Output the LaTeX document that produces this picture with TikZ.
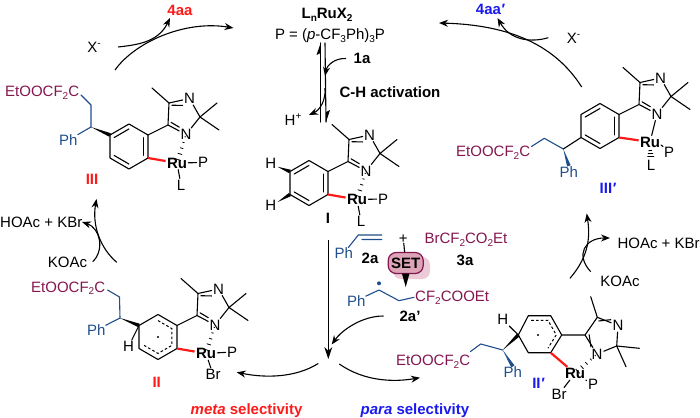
\documentclass[tikz,border=0pt]{standalone}
\usepackage{fontspec}
\setmainfont{Liberation Sans}
\usetikzlibrary{calc,arrows.meta}
\definecolor{maroon}{HTML}{84174F}
\definecolor{chainblue}{HTML}{1F4E8C}
\definecolor{lblred}{HTML}{FF1A1A}
\definecolor{lblblue}{HTML}{1A1AF0}
\definecolor{setfill}{HTML}{DDA3B6}
\definecolor{setshadow}{HTML}{EBCBD6}
\newcommand\subt[1]{\raisebox{-2.6pt}{\fontsize{10}{10}\selectfont #1}}
\newcommand\supt[1]{\raisebox{5.5pt}{\fontsize{10}{10}\selectfont #1}}
\tikzset{
  bond/.style={line width=1.1pt,line cap=round,line join=round},
  atom/.style={inner sep=1.2pt,font=\fontsize{15}{18}\selectfont},
  ruatom/.style={inner sep=1.2pt,font=\fontsize{15}{18}\selectfont\bfseries},
  txt/.style={inner sep=0pt,anchor=base west,font=\fontsize{15}{18}\selectfont},
  ctxt/.style={inner sep=0pt,anchor=base,font=\fontsize{15}{18}\selectfont},
  bold/.style={inner sep=0pt,anchor=base,font=\fontsize{15}{18}\selectfont\bfseries},
  redbond/.style={line width=2.2pt,color=lblred},
  rarrow/.style={line width=1.1pt,-{Stealth[length=9pt,width=7pt]}},
}
\newcommand\hashbond[2]{\foreach \hf/\hw in {.08/.6,.28/1.1,.48/1.7,.68/2.3,.88/2.9}{\coordinate (hp) at ($(#1)!\hf!(#2)$); \draw[line width=.8pt] ($(hp)!\hw pt!90:(#2)$) -- ($(hp)!\hw pt!-90:(#2)$);}}
\newcommand\wedgebond[3][black]{\fill[#1] (#2) -- ($(#3)!1.9pt!90:(#2)$) -- ($(#3)!1.9pt!-90:(#2)$) -- cycle;}
\newcommand\imidgroup[1]{%
  \coordinate (#1r1) at (110,135); \coordinate (#1r2) at (129,124);
  \coordinate (#1r3) at (148,135); \coordinate (#1r4) at (148,158);
  \coordinate (#1r5) at (129,169); \coordinate (#1r6) at (110,158);
  \coordinate (#1ct) at (129,146.5);
  \coordinate (#1c1) at (168,125); \coordinate (#1c2) at (169,103);
  \coordinate (#1c3) at (200,117); \coordinate (#1im) at (182,113);
  \coordinate (#1m1) at (152,88); \coordinate (#1m2) at (217,103); \coordinate (#1m3) at (219,130);
  \node[atom] (#1Na) at (189.5,98.5) {N};
  \node[atom] (#1Nb) at (186,134.5) {N};
  \draw[bond] (#1r3) -- (#1c1) -- (#1c2) -- (#1Na) -- (#1c3) -- (#1Nb) -- (#1c1);
  \draw[bond] (#1c2) -- (#1m1) (#1c3) -- (#1m2) (#1c3) -- (#1m3);
  \draw[bond] ($(#1c2)!.22!(#1im)$) -- ($(#1Na.south west)!.05!(#1im)$);
  \draw[bond] ($(#1c1)!.22!(#1im)$) -- ($(#1Nb.north west)!.05!(#1im)$);
}
\newcommand\benzring[1]{%
  \draw[bond] (#1r1) -- (#1r2) -- (#1r3) -- (#1r4) -- (#1r5) -- (#1r6) -- cycle;
  \draw[bond] ($(#1r1)!.22!(#1ct)$) -- ($(#1r2)!.22!(#1ct)$);
  \draw[bond] ($(#1r3)!.22!(#1ct)$) -- ($(#1r4)!.22!(#1ct)$);
  \draw[bond] ($(#1r5)!.22!(#1ct)$) -- ($(#1r6)!.22!(#1ct)$);
}
\begin{document}
\begin{tikzpicture}[x=1pt,y=-1pt]
\useasboundingbox (0,0) rectangle (700,417);

% ---------- top centre
\node[bold] (cat) at (327,18.5) {L\subt{n}RuX\subt{2}};
\node[ctxt] (pdef) at (330,39.5) {P = (\textit{p}-CF\subt{3}Ph)\subt{3}P};
\coordinate (eqAt) at (320.7,43); \coordinate (eqAb) at (320.7,122);
\coordinate (eqBt) at (325,43); \coordinate (eqBb) at (326,122);
\coordinate (eqAh) at (316.5,55); \coordinate (eqAi) at (320.7,53);
\coordinate (eqBh) at (330,110); \coordinate (eqBi) at (326,112);
\draw[bond] (eqAb) -- (eqAt);
\fill (eqAt) -- (eqAh) -- (eqAi) -- cycle;
\draw[bond] (eqBt) -- (eqBb);
\fill (eqBb) -- (eqBh) -- (eqBi) -- cycle;
\node[bold] (onea) at (362,63.5) {1a};
\coordinate (oneaE) at (325,76);
\coordinate (oneaS) at (346,58.5);
\draw[rarrow] (oneaS) .. controls (335,58) and (327,65) .. (oneaE);
\node[ctxt] (hplus) at (293,125) {H\supt{+}};
\coordinate (hS) at (325,88); \coordinate (hE) at (309,115);
\draw[rarrow] (hS) .. controls (326,100) and (320,110) .. (hE);
\node[bold] (chact) at (390,97) {C-H activation};

% ---------- complex III
\begin{scope}[shift={(0,0)}]
  \imidgroup{a}
  \benzring{a}
  \node[ruatom] (aRu) at (177,163) {Ru};
  \node[atom] (aP) at (203,162.5) {P};
  \node[atom] (aL) at (181,185) {L};
  \coordinate (aC) at (91,127); \coordinate (aD) at (91,105); \coordinate (aE) at (81,95);
\end{scope}
\draw[redbond] (ar4) -- (aRu);
\hashbond{aNb}{aRu}
\draw[bond] (aRu) -- (aP) (aRu) -- (aL);
\wedgebond{aC}{ar1}
\draw[bond,chainblue] (aE) -- (aD) -- (aC);
\node[txt,chainblue] (aPh) at (59,145.5) {Ph};
\draw[bond,chainblue] (aC) -- (aPh);
\node[txt,maroon] (aEt) at (5,96.5) {EtOOCF\subt{2}C};
\node[bold,lblred] (lIII) at (92,184.5) {III};

% ---------- complex I
\begin{scope}[shift={(180,36.5)}]
  \imidgroup{b}
  \benzring{b}
  \node[ruatom] (bRu) at (177,163) {Ru};
  \node[atom] (bP) at (203,162.5) {P};
  \node[atom] (bL) at (181,185) {L};
  \node[atom] (bHa) at (90.7,126.5) {H};
  \node[atom] (bHb) at (90.7,168.5) {H};
\end{scope}
\draw[redbond] (br4) -- (bRu);
\hashbond{bNb}{bRu}
\draw[bond] (bRu) -- (bP) (bRu) -- (bL);
\wedgebond{bHa}{br1}
\wedgebond{bHb}{br6}
\node[bold] (lI) at (328,223.5) {I};

% ---------- complex II
\begin{scope}[shift={(29,190.5)}]
  \imidgroup{c}
  \draw[bond] (cr1) -- (cr2) -- (cr3) -- (cr4) -- (cr5) -- (cr6) -- cycle;
  \draw[line width=1pt,dash pattern=on 2.6pt off 2.2pt] ($(cr2)!.27!(cct)$) -- ($(cr3)!.27!(cct)$) -- ($(cr4)!.27!(cct)$) -- ($(cr5)!.27!(cct)$) -- ($(cr6)!.27!(cct)$);
  \fill (cct) circle (1.1pt);
  \node[ruatom] (cRu) at (177,163) {Ru};
  \node[atom] (cP) at (203,161.5) {P};
  \node[atom] (cBr) at (184,184) {Br};
  \node[atom] (cH) at (99.5,156) {H};
  \coordinate (cC) at (91,127.5); \coordinate (cD) at (90.5,106.5); \coordinate (cE) at (78.5,99.5);
\end{scope}
\draw[redbond] (cr4) -- (cRu);
\hashbond{cNb}{cRu}
\draw[bond] (cRu) -- (cP) (cRu) -- (cBr);
\draw[bond] (cr1) -- (cH);
\wedgebond{cC}{cr1}
\draw[bond,chainblue] (cE) -- (cD) -- (cC);
\node[txt,chainblue] (cPh) at (87,335.5) {Ph};
\draw[bond,chainblue] (cC) -- (cPh);
\node[txt,maroon] (cEt) at (31,292) {EtOOCF\subt{2}C};
\node[bold,lblred] (lII) at (156.7,387) {II};

% ---------- complex III'
\begin{scope}[shift={(471,-20.5)}]
  \imidgroup{d}
  \benzring{d}
  \node[ruatom] (dRu) at (179,162.5) {Ru};
  \node[atom] (dP) at (198,172.5) {P};
  \node[atom] (dL) at (180,185.5) {L};
  \coordinate (dC) at (92.3,169.5); \coordinate (dD) at (73.3,158.8); \coordinate (dE) at (60.5,167);
  \coordinate (dPa) at (190,165.5); \coordinate (dPb) at (192,167);
\end{scope}
\draw[redbond] (dr4) -- (dRu);
\draw[bond] (dNb) -- (dRu);
\foreach \hf/\hw in {.2/1.8,.5/2.6,.8/3.4}{\coordinate (hp) at ($(dRu.south)!\hf!(dL.north)$); \draw[line width=.8pt] ($(hp)!\hw pt!90:(dL)$) -- ($(hp)!\hw pt!-90:(dL)$);}
\draw[bond] (dPa) -- (dPb);
\draw[bond,chainblue] (dE) -- (dD) -- (dC);
\draw[bond] (dC) -- (dr6);
\node[txt,chainblue] (dPh) at (559.5,177) {Ph};
\wedgebond[chainblue]{dC}{dPh.north}
\node[txt,maroon] (dEt) at (456,156.5) {EtOOCF\subt{2}C};
\node[bold,lblblue] (lIIIp) at (608,193.5) {III\textit{′}};

% ---------- complex II' (ring drawn directly)
\coordinate (er1) at (518.3,335); \coordinate (er2) at (528.3,315.7);
\coordinate (er3) at (550.7,315.7); \coordinate (er4) at (561.7,335);
\coordinate (er5) at (550.7,352.7); \coordinate (er6) at (528.3,352.7);
\coordinate (ect) at (539.9,334.5);
\draw[bond] (er1) -- (er2) -- (er3) -- (er4) -- (er5) -- (er6) -- cycle;
\draw[line width=1pt,dash pattern=on 2.6pt off 2.2pt] ($(er2)!.25!(ect)$) -- ($(er3)!.25!(ect)$) -- ($(er4)!.25!(ect)$) -- ($(er5)!.25!(ect)$);
\fill (538,335) circle (1.1pt);
\coordinate (ec1) at (585,335); \coordinate (ec2) at (597.3,317.3);
\coordinate (ec3) at (616.7,346); \coordinate (eim) at (604,334);
\node[atom] (eNa) at (618,325.5) {N};
\node[atom] (eNb) at (597,354) {N};
\coordinate (em1) at (590.7,296.7); \coordinate (em2) at (639.3,348.3); \coordinate (em3) at (626,366.7);
\draw[bond] (er4) -- (ec1) -- (ec2) -- (eNa) -- (ec3) -- (eNb) -- (ec1);
\draw[bond] (ec2) -- (em1) (ec3) -- (em2) (ec3) -- (em3);
\draw[bond] ($(ec2)!.22!(eim)$) -- ($(eNa.north west)!.05!(eim)$);
\draw[bond] ($(ec1)!.22!(eim)$) -- ($(eNb.north west)!.05!(eim)$);
\node[ruatom] (eRu) at (575,373.5) {Ru};
\node[atom] (eP) at (593,384.5) {P};
\node[atom] (eBr) at (559,394) {Br};
\node[atom] (eH) at (502.7,319.5) {H};
\draw[redbond] (er5) -- (eRu);
\hashbond{eNb}{eRu}
\draw[bond] (eRu) -- (eBr);
\draw[bond,dotted] (eRu) -- (eP);
\draw[bond] (er1) -- (eH);
\coordinate (eC) at (502.7,350); \coordinate (eD) at (480.7,344); \coordinate (eE) at (470.5,351.5);
\wedgebond{eC}{er1}
\draw[bond,chainblue] (eE) -- (eD) -- (eC);
\node[txt,chainblue] (ePh) at (503.5,377.5) {Ph};
\wedgebond[chainblue]{eC}{ePh.north}
\node[txt,maroon] (eEt) at (396,365.5) {EtOOCF\subt{2}C};
\node[bold,lblblue] (lIIp) at (538.5,388.5) {II\textit{′}};

% ---------- reagents
\node[txt,chainblue] (sPh) at (334.5,258.5) {Ph};
\coordinate (sa) at (358.3,235); \coordinate (sb) at (381.7,235);
\coordinate (sc) at (362,239.5); \coordinate (sd) at (381.7,239.5);
\draw[bond,chainblue] (sPh) -- (sa) -- (sb) (sc) -- (sd);
\node[bold] (tw) at (370,263.5) {2a};
\node[ctxt] (plus) at (403.3,243) {+};
\node[txt,maroon] (brc) at (424.3,243.5) {BrCF\subt{2}CO\subt{2}Et};
\node[bold] (three) at (465,265) {3a};
\fill[setshadow,rounded corners=8pt] (393,257) rectangle (430,279);
\node[draw=maroon,line width=1.2pt,fill=setfill,rounded corners=8pt,minimum width=35pt,minimum height=21pt,inner sep=0pt,font=\fontsize{15}{18}\selectfont\bfseries] (set) at (405.7,263) {SET};
\draw[bond] (plus) -- (set);
\coordinate (setb) at (405.7,287);
\coordinate (setl) at (401.9,273.5); \coordinate (setr) at (409.5,273.5);
\fill (setl) -- (setr) -- (setb) -- cycle;
\node[txt,chainblue] (rPh) at (347,306) {Ph};
\coordinate (ra) at (379,290); \coordinate (rb) at (399,300.7); \coordinate (rc) at (414,297.3);
\draw[bond,chainblue] (rPh) -- (ra) -- (rb) -- (rc);
\fill[chainblue] (379,283.3) circle (2pt);
\node[txt,maroon] (rCF) at (415,301.5) {CF\subt{2}COOEt};
\node[bold] (twp) at (410,321.5) {2a'};

% ---------- main arrows
\coordinate (mT) at (328.3,240); \coordinate (mB) at (328.3,359);
\draw[line width=1.1pt,-{Stealth[length=12pt,width=8pt]}] (mT) -- (mB);
\coordinate (rS) at (383.5,316); \coordinate (rE) at (331.7,344.5);
\draw[rarrow] (rS) .. controls (362,316) and (342,330) .. (rE);
\coordinate (lS) at (318.3,363.5); \coordinate (lE) at (236.7,372.3);
\draw[rarrow] (lS) .. controls (295,378) and (265,378) .. (lE);
\coordinate (pS) at (339.3,364); \coordinate (pE) at (420,377.7);
\draw[rarrow] (pS) .. controls (365,382) and (395,382) .. (pE);

% ---------- cycle arrows
\coordinate (tlS) at (115,70); \coordinate (tlE) at (233.5,28);
\draw[rarrow] (tlS) .. controls (135,42) and (185,20) .. (tlE);
\coordinate (tlbS) at (118,47); \coordinate (tlbE) at (170,18);
\draw[rarrow] (tlbS) .. controls (135,45) and (158,43) .. (tlbE);
\node[bold,lblred] (p4aa) at (180,15.5) {4aa};
\node[ctxt] (xa) at (94,52.5) {X\supt{-}};

\coordinate (trS) at (581.7,87); \coordinate (trE) at (439,23);
\draw[rarrow] (trS) .. controls (555,45) and (510,25) .. (trE);
\coordinate (trbS) at (548.3,37.7); \coordinate (trbE) at (497.5,18);
\draw[rarrow] (trbS) .. controls (530,43) and (510,40) .. (trbE);
\node[bold,lblblue] (p4aap) at (490.5,14.5) {4aa\textit{′}};
\node[ctxt] (xb) at (573.5,43.5) {X\supt{-}};

\coordinate (llS) at (116.7,262.3); \coordinate (llE) at (96.5,199);
\draw[rarrow] (llS) .. controls (100,248) and (92,225) .. (llE);
\coordinate (llbS) at (92.7,261.7); \coordinate (llbE) at (82,222);
\draw[rarrow] (llbS) .. controls (105,250) and (100,228) .. (llbE);
\node[txt] (hoa) at (0,227) {HOAc + KBr};
\node[ctxt] (koa) at (67.5,267) {KOAc};

\coordinate (rrS) at (570,278.3); \coordinate (rrE) at (586.7,213.5);
\draw[rarrow] (rrS) .. controls (590,255) and (590,235) .. (rrE);
\coordinate (rrbS) at (590.7,271.7); \coordinate (rrbE) at (610,238);
\draw[rarrow] (rrbS) .. controls (575,255) and (585,238) .. (rrbE);
\node[txt] (hob) at (617.3,248) {HOAc + KBr};
\node[ctxt] (kob) at (620,286) {KOAc};

% ---------- selectivity labels
\node[txt,font=\fontsize{15}{18}\selectfont\bfseries,lblred] (meta) at (190.5,414) {\textit{meta} selectivity};
\node[txt,font=\fontsize{15}{18}\selectfont\bfseries,lblblue] (para) at (360.5,414) {\textit{para} selectivity};
\end{tikzpicture}
\end{document}
